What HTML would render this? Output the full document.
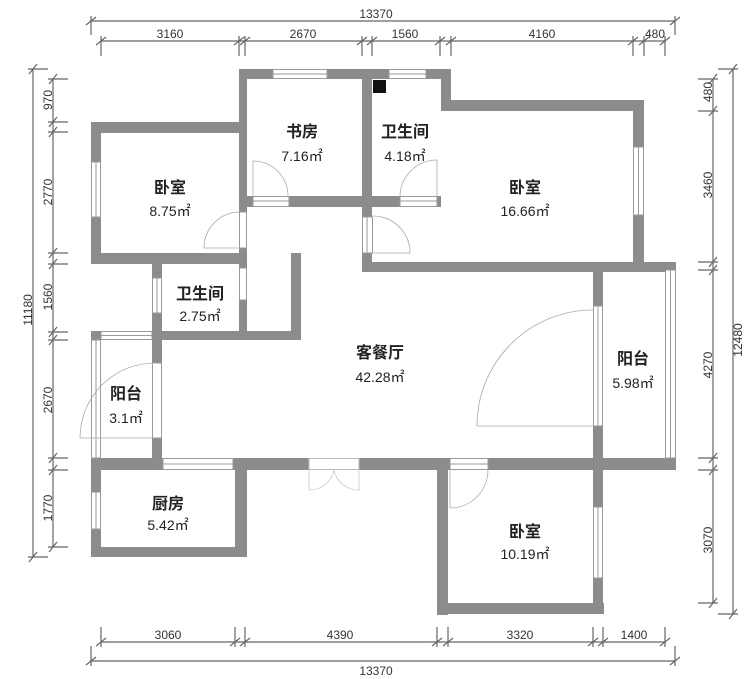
<!DOCTYPE html>
<html><head><meta charset="utf-8"><style>
html,body{margin:0;padding:0;background:#fff}
svg{display:block}
.n{font-family:"Liberation Sans","Noto Sans CJK SC",sans-serif;font-size:16px;font-weight:bold;fill:#222;text-anchor:middle}
.a{font-family:"Liberation Sans","Noto Sans CJK SC",sans-serif;font-size:14px;fill:#222;text-anchor:middle}
.d{font-family:"Liberation Sans",sans-serif;font-size:12px;fill:#333;text-anchor:middle}
</style></head><body>
<svg width="752" height="679" viewBox="0 0 752 679" xmlns="http://www.w3.org/2000/svg">
<g fill="#8c8c8c">
<rect x="240" y="69" width="211" height="10"/>
<rect x="239" y="69" width="8" height="271"/>
<rect x="362" y="69" width="10" height="203"/>
<rect x="441" y="69" width="10" height="42"/>
<rect x="247" y="196" width="194" height="11"/>
<rect x="441" y="100" width="203" height="11"/>
<rect x="633" y="100" width="11" height="172"/>
<rect x="362" y="262" width="314" height="10"/>
<rect x="91" y="122" width="149" height="11"/>
<rect x="91" y="122" width="10" height="142"/>
<rect x="91" y="331" width="10" height="226"/>
<rect x="91" y="253" width="156" height="11"/>
<rect x="152" y="264" width="10" height="206"/>
<rect x="152" y="331" width="149" height="9"/>
<rect x="291" y="253" width="10" height="87"/>
<rect x="91" y="331" width="71" height="9"/>
<rect x="91" y="458" width="585" height="12"/>
<rect x="235" y="458" width="12" height="99"/>
<rect x="91" y="547" width="156" height="10"/>
<rect x="437" y="458" width="11" height="157"/>
<rect x="437" y="603" width="167" height="11"/>
<rect x="593" y="262" width="10" height="352"/>
<rect x="665" y="262" width="11" height="208"/>
</g>
<rect x="373" y="80" width="13" height="13" fill="#111"/>
<g fill="#fff" stroke="#999" stroke-width="1">
<rect x="273" y="69.5" width="54" height="9"/><line x1="273" y1="74" x2="327" y2="74"/>
<rect x="389" y="69.5" width="37" height="9"/><line x1="389" y1="74" x2="426" y2="74"/>
<rect x="101" y="331.5" width="51" height="8"/><line x1="101" y1="335.5" x2="152" y2="335.5"/>
<rect x="163" y="458.5" width="70" height="11"/><line x1="163" y1="464" x2="233" y2="464"/>
<rect x="309" y="458.5" width="50" height="11" stroke="#bbb"/>
<rect x="450" y="458.5" width="38" height="11"/><line x1="450" y1="464" x2="488" y2="464"/>
<rect x="253" y="196.5" width="36" height="10"/><line x1="253" y1="201" x2="289" y2="201"/>
<rect x="400" y="196.5" width="37" height="10"/><line x1="400" y1="201" x2="437" y2="201"/>
<rect x="91.5" y="162" width="9" height="55"/><line x1="96" y1="162" x2="96" y2="217"/>
<rect x="633.5" y="147" width="10" height="68"/><line x1="638.5" y1="147" x2="638.5" y2="215"/>
<rect x="152.5" y="278" width="9" height="35"/><line x1="157" y1="278" x2="157" y2="313"/>
<rect x="91.5" y="340" width="9" height="118"/><line x1="96" y1="340" x2="96" y2="458"/>
<rect x="91.5" y="492" width="9" height="37"/><line x1="96" y1="492" x2="96" y2="529"/>
<rect x="665.5" y="270" width="10" height="188"/><line x1="670.5" y1="270" x2="670.5" y2="458"/>
<rect x="593.5" y="507" width="9" height="71"/><line x1="598" y1="507" x2="598" y2="578"/>
<rect x="593.5" y="306" width="9" height="120"/><line x1="598" y1="306" x2="598" y2="426"/>
<rect x="152.5" y="363" width="9" height="75"/>
<rect x="239.5" y="212" width="7" height="36"/>
<rect x="362.5" y="217" width="10" height="36"/><line x1="367" y1="217" x2="367" y2="253"/>
<rect x="239.5" y="268" width="7" height="32"/>
</g>
<g fill="none" stroke="#aaa" stroke-width="0.8">
<path d="M253,196 L253,161 A35,35 0 0 1 288,196"/>
<path d="M437,196 L437,160 A37,37 0 0 0 400,196"/>
<path d="M240,248 L204,248 A36,36 0 0 1 240,212"/>
<path d="M373,253 L410,253 A37,37 0 0 0 373,216"/>
<path d="M593,426 L477,426 A116,116 0 0 1 593,310"/>
<path d="M155,438 L80,438 A75,75 0 0 1 155,363"/>
<path d="M450,470 L450,508 A38,38 0 0 0 488,470"/>
<path d="M309,470 L309,490 A25,25 0 0 0 334,470 M359,470 L359,490 A25,25 0 0 1 334,470" stroke="#ccc"/>
</g>
<g stroke="#666" stroke-width="1.2" fill="none">
<line x1="91" y1="21" x2="675" y2="21"/>
<line x1="91" y1="16" x2="91" y2="35"/><line x1="675" y1="16" x2="675" y2="35"/>
<line x1="101" y1="41" x2="665" y2="41"/>
<path d="M101,36V56 M239,36V56 M245,36V56 M362,36V56 M372,36V56 M440,36V56 M451,36V56 M633,36V56 M644,36V56 M665,36V56"/>
<path d="M96,45l10,-8 M234,45l10,-8 M240,45l10,-8 M357,45l10,-8 M367,45l10,-8 M435,45l10,-8 M446,45l10,-8 M628,45l10,-8 M639,45l10,-8 M660,45l10,-8 M86,25l10,-8 M670,25l10,-8"/>
<line x1="33" y1="69" x2="33" y2="557"/>
<line x1="28" y1="69" x2="48" y2="69"/><line x1="28" y1="557" x2="48" y2="557"/>
<line x1="53" y1="79" x2="53" y2="547"/>
<path d="M48,79H68 M48,122H68 M48,132H68 M48,253H68 M48,264H68 M48,332H68 M48,340H68 M48,458H68 M48,470H68 M48,547H68"/>
<path d="M49,84l8,-10 M49,127l8,-10 M49,137l8,-10 M49,258l8,-10 M49,269l8,-10 M49,337l8,-10 M49,345l8,-10 M49,463l8,-10 M49,475l8,-10 M49,552l8,-10 M29,74l8,-10 M29,562l8,-10"/>
<line x1="733" y1="69" x2="733" y2="614"/>
<line x1="718" y1="69" x2="738" y2="69"/><line x1="718" y1="614" x2="738" y2="614"/>
<line x1="713" y1="79" x2="713" y2="603"/>
<path d="M698,79H718 M698,111H718 M698,262H718 M698,270H718 M698,458H718 M698,470H718 M698,603H718"/>
<path d="M709,84l8,-10 M709,116l8,-10 M709,267l8,-10 M709,275l8,-10 M709,463l8,-10 M709,475l8,-10 M709,608l8,-10 M729,74l8,-10 M729,619l8,-10"/>
<line x1="101" y1="642" x2="665" y2="642"/>
<path d="M101,627V647 M235,627V647 M245,627V647 M437,627V647 M448,627V647 M593,627V647 M603,627V647 M665,627V647"/>
<path d="M96,646l10,-8 M230,646l10,-8 M240,646l10,-8 M432,646l10,-8 M443,646l10,-8 M588,646l10,-8 M598,646l10,-8 M660,646l10,-8"/>
<line x1="91" y1="661" x2="675" y2="661"/>
<path d="M91,646V666 M675,646V666 M86,665l10,-8 M670,665l10,-8"/>
</g>
<g class="d">
<text x="376" y="18">13370</text>
<text x="170" y="38">3160</text><text x="303" y="38">2670</text><text x="405" y="38">1560</text><text x="542" y="38">4160</text><text x="655" y="38">480</text>
<text x="168" y="639">3060</text><text x="340" y="639">4390</text><text x="520" y="639">3320</text><text x="634" y="639">1400</text>
<text x="376" y="675">13370</text>
<text transform="translate(52,100) rotate(-90)">970</text>
<text transform="translate(52,192) rotate(-90)">2770</text>
<text transform="translate(52,297) rotate(-90)">1560</text>
<text transform="translate(52,400) rotate(-90)">2670</text>
<text transform="translate(52,508) rotate(-90)">1770</text>
<text transform="translate(32,310) rotate(-90)">11180</text>
<text transform="translate(712,92) rotate(-90)">480</text>
<text transform="translate(712,185) rotate(-90)">3460</text>
<text transform="translate(712,365) rotate(-90)">4270</text>
<text transform="translate(712,540) rotate(-90)">3070</text>
<text transform="translate(742,340) rotate(-90)">12480</text>
</g>
<text class="n" x="302" y="137">书房</text><text class="a" x="302" y="161">7.16㎡</text>
<text class="n" x="405" y="137">卫生间</text><text class="a" x="405" y="161">4.18㎡</text>
<text class="n" x="170" y="193">卧室</text><text class="a" x="170" y="216">8.75㎡</text>
<text class="n" x="525" y="193">卧室</text><text class="a" x="525" y="216">16.66㎡</text>
<text class="n" x="200" y="299">卫生间</text><text class="a" x="200" y="321">2.75㎡</text>
<text class="n" x="380" y="358">客餐厅</text><text class="a" x="380" y="382">42.28㎡</text>
<text class="n" x="126" y="399">阳台</text><text class="a" x="126" y="423">3.1㎡</text>
<text class="n" x="633" y="364">阳台</text><text class="a" x="633" y="388">5.98㎡</text>
<text class="n" x="168" y="509">厨房</text><text class="a" x="168" y="530">5.42㎡</text>
<text class="n" x="525" y="537">卧室</text><text class="a" x="525" y="559">10.19㎡</text>
</svg>
</body></html>
